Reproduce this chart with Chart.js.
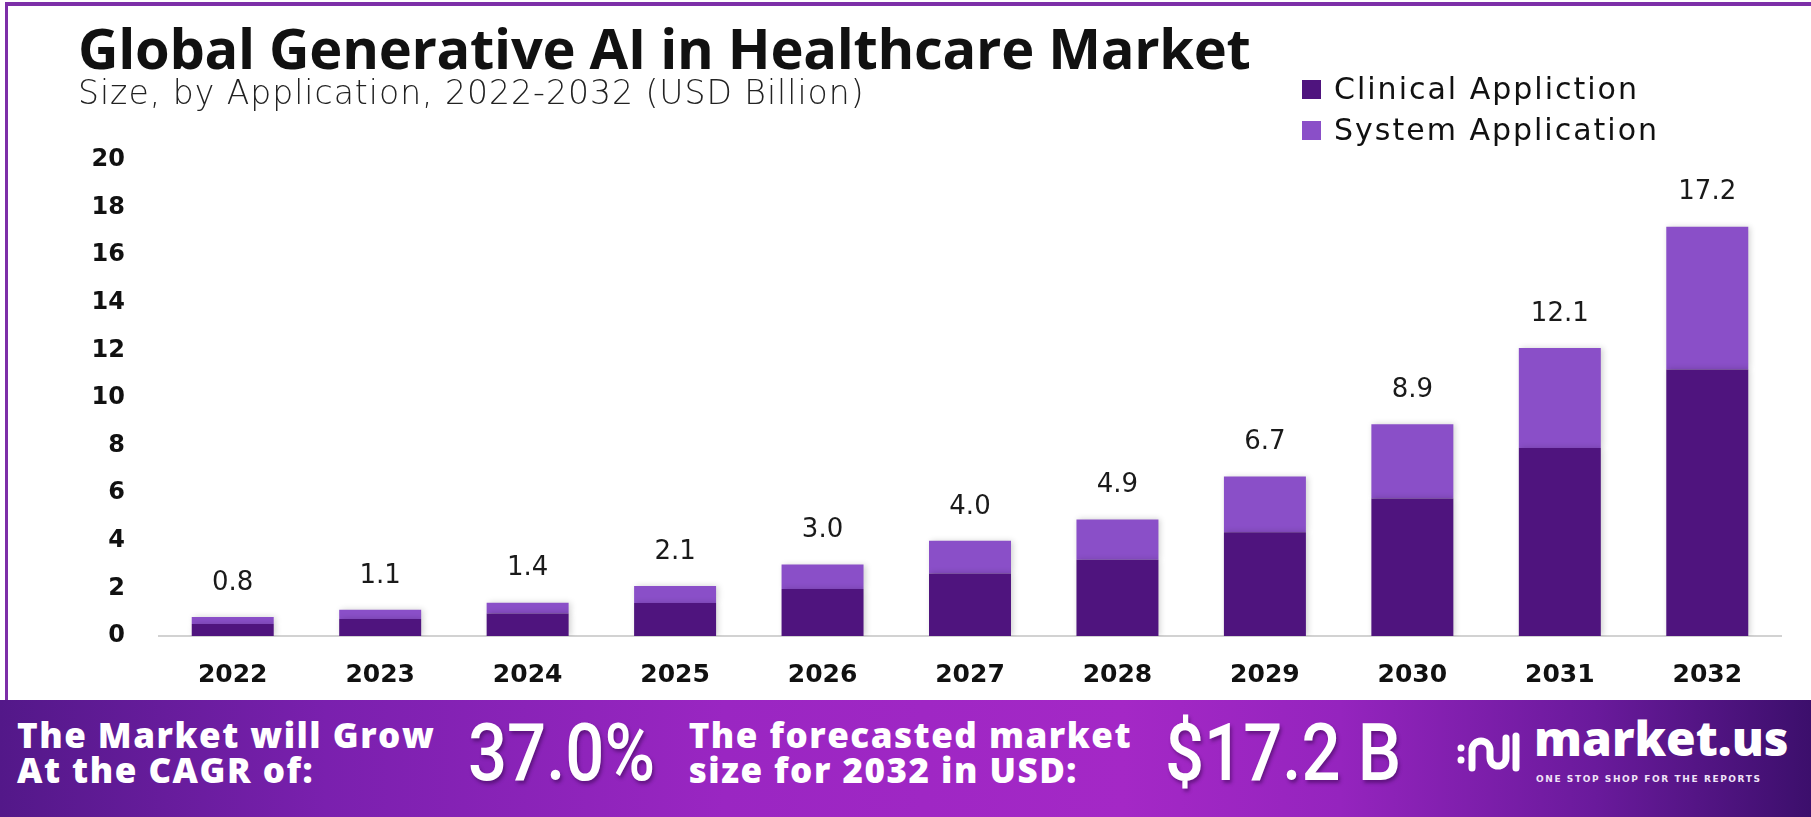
<!DOCTYPE html>
<html>
<head>
<meta charset="utf-8">
<script src="https://cdn.jsdelivr.net/npm/chart.js@4.4.1/dist/chart.umd.min.js"></script>
<style>
  body { margin: 0; background: #fff; }
  #page { position: relative; width: 1811px; height: 817px; overflow: hidden; background: #fff; font-family: "Open Sans", sans-serif; }
  #frame { position: absolute; left: 5px; top: 2px; width: 1820px; height: 700px; border-top: 4px solid #7d2fa8; border-left: 3px solid #7d2fa8; box-sizing: border-box; }
  #chart-box { position: absolute; left: 0; top: 0; width: 1811px; height: 700px; }
  .title { position: absolute; left: 78px; top: 19px; font: 700 56px/1 "Open Sans", sans-serif; color: #111; white-space: nowrap; letter-spacing: -0.3px; }
  .subtitle { position: absolute; left: 78px; top: 76px; font: 200 33px/1 "DejaVu Sans", sans-serif; color: #222; white-space: nowrap; letter-spacing: 1px; }
  .legend { position: absolute; left: 1302px; top: 74px; font: 400 30px/1 "DejaVu Sans", sans-serif; color: #111; }
  .legend div { position: relative; height: 41px; padding-left: 32px; white-space: nowrap; letter-spacing: 2px; }
  .legend span { position: absolute; left: 0; top: 6px; width: 19px; height: 19px; }
  #banner { position: absolute; left: 0; top: 700px; width: 1811px; height: 117px;
    background: linear-gradient(90deg, #531889 0%, #7a20ae 18%, #9a26c2 40%, #a428c6 62%, #9524be 74%, #6a1a9c 88%, #3c0f6c 100%); color: #fff; }
  #banner .t { position: absolute; font: 800 35px/35px "Open Sans", sans-serif; white-space: nowrap; letter-spacing: 1.5px; }
  #banner .big { position: absolute; font: 500 80px/1 Roboto, sans-serif; white-space: nowrap; transform: scaleX(0.86); transform-origin: 0 0; text-shadow: 2px 3px 4px rgba(40,0,60,0.45); }
  #banner .brand { position: absolute; left: 1534px; top: 14px; font: 800 48px/1 "Open Sans", sans-serif; white-space: nowrap; }
  #banner .tag { position: absolute; left: 1536px; top: 75px; font: 700 9px/1 "DejaVu Sans", sans-serif; letter-spacing: 1.6px; white-space: nowrap; color: #f1e4f8; }
</style>
</head>
<body>
<div id="page">
  <div id="frame"></div>
  <div id="chart-box"><canvas id="chart"></canvas></div>
  <div class="title">Global Generative AI in Healthcare Market</div>
  <div class="subtitle">Size, by Application, 2022-2032 (USD Billion)</div>
  <div class="legend" id="legend"></div>
  <div id="banner">
    <div class="t" style="left:17px; top:17px;">The Market will Grow<br>At the CAGR of:</div>
    <div class="big" style="left:468px; top:13px;">37.0%</div>
    <div class="t" style="right:679px; top:17px;">The forecasted market<br>size for 2032 in USD:</div>
    <div class="big" style="left:1165px; top:13px;">$17.2 B</div>
    <svg style="position:absolute; left:1456px; top:24px;" width="70" height="56" viewBox="0 0 70 56">
      <g fill="none" stroke="#fff" stroke-width="7" stroke-linecap="round">
        <path d="M16 44 V26 a9 9 0 0 1 18 0 V34 a8 8 0 0 0 16 0 V14"/>
        <path d="M60 12 V44"/>
      </g>
      <circle cx="5" cy="24" r="3.5" fill="#fff"/>
      <circle cx="5" cy="36" r="3.5" fill="#fff"/>
    </svg>
    <div class="brand">market.us</div>
    <div class="tag">ONE STOP SHOP FOR THE REPORTS</div>
  </div>
</div>
<script>
const years = ['2022', '2023', '2024', '2025', '2026', '2027', '2028', '2029', '2030', '2031', '2032'];
const clinical = [0.5, 0.71, 0.95, 1.39, 1.98, 2.63, 3.2, 4.36, 5.78, 7.9, 11.2];
const systemApp = [0.3, 0.39, 0.45, 0.71, 1.02, 1.37, 1.7, 2.34, 3.12, 4.2, 6.0];
const yTicks = [0, 2, 4, 6, 8, 10, 12, 14, 16, 18, 20];
const seriesNames = ['Clinical Appliction', 'System Application'];
const seriesColors = ['#4f147e', '#8a4fc8'];

// legend (html)
const legendEl = document.getElementById('legend');
seriesNames.forEach((name, i) => {
    const row = document.createElement('div');
    row.innerHTML = '<span style="background:' + seriesColors[i] + '"></span>' + name;
    legendEl.appendChild(row);
});

// soft shadow under bars
const barShadow = {
    id: 'barShadow',
    beforeDatasetsDraw(chart) {
        const ctx = chart.ctx;
        ctx.save();
        ctx.shadowColor = 'rgba(0,0,0,0.18)';
        ctx.shadowBlur = 6;
        ctx.shadowOffsetX = 2;
        ctx.shadowOffsetY = 0;
    },
    afterDatasetsDraw(chart) {
        chart.ctx.restore();
    }
};

// total value above each stack
const totalLabels = {
    id: 'totalLabels',
    afterDatasetsDraw(chart) {
        const ctx = chart.ctx;
        const top = chart.getDatasetMeta(1);
        ctx.save();
        ctx.font = '400 26px "DejaVu Sans", sans-serif';
        ctx.fillStyle = '#1a1a1a';
        ctx.textAlign = 'center';
        ctx.textBaseline = 'middle';
        top.data.forEach((bar, i) => {
            const total = clinical[i] + systemApp[i];
            ctx.fillText(total.toFixed(1), bar.x, bar.y - 34);
        });
        ctx.restore();
    }
};

new Chart(document.getElementById('chart').getContext('2d'), {
    type: 'bar',
    data: {
        labels: years,
        datasets: [{
            label: seriesNames[0],
            data: clinical,
            backgroundColor: seriesColors[0],
            borderWidth: 0
        }, {
            label: seriesNames[1],
            data: systemApp,
            backgroundColor: seriesColors[1],
            borderWidth: 0
        }]
    },
    options: {
        responsive: true,
        maintainAspectRatio: false,
        animation: false,
        categoryPercentage: 1,
        barPercentage: 0.556,
        layout: { padding: { left: 0, right: 30, top: 160, bottom: 0 } },
        plugins: {
            legend: { display: false },
            tooltip: { enabled: false }
        },
        scales: {
            x: {
                stacked: true,
                grid: { display: false },
                border: { display: true, color: '#d2d2d2', width: 2 },
                ticks: {
                    padding: 16,
                    color: '#111',
                    font: { family: 'DejaVu Sans', size: 25, weight: 'bold' }
                },
                afterFit(scale) { scale.height = 64; }
            },
            y: {
                stacked: true,
                min: 0,
                max: 20,
                afterBuildTicks(scale) { scale.ticks = yTicks.map(v => ({ value: v })); },
                grid: { display: false, drawTicks: false },
                border: { display: false },
                ticks: {
                    padding: 34,
                    color: '#111',
                    font: { family: 'DejaVu Sans', size: 24, weight: 'bold' }
                },
                afterFit(scale) { scale.width = 159; }
            }
        }
    },
    plugins: [barShadow, totalLabels]
});
</script>
</body>
</html>
